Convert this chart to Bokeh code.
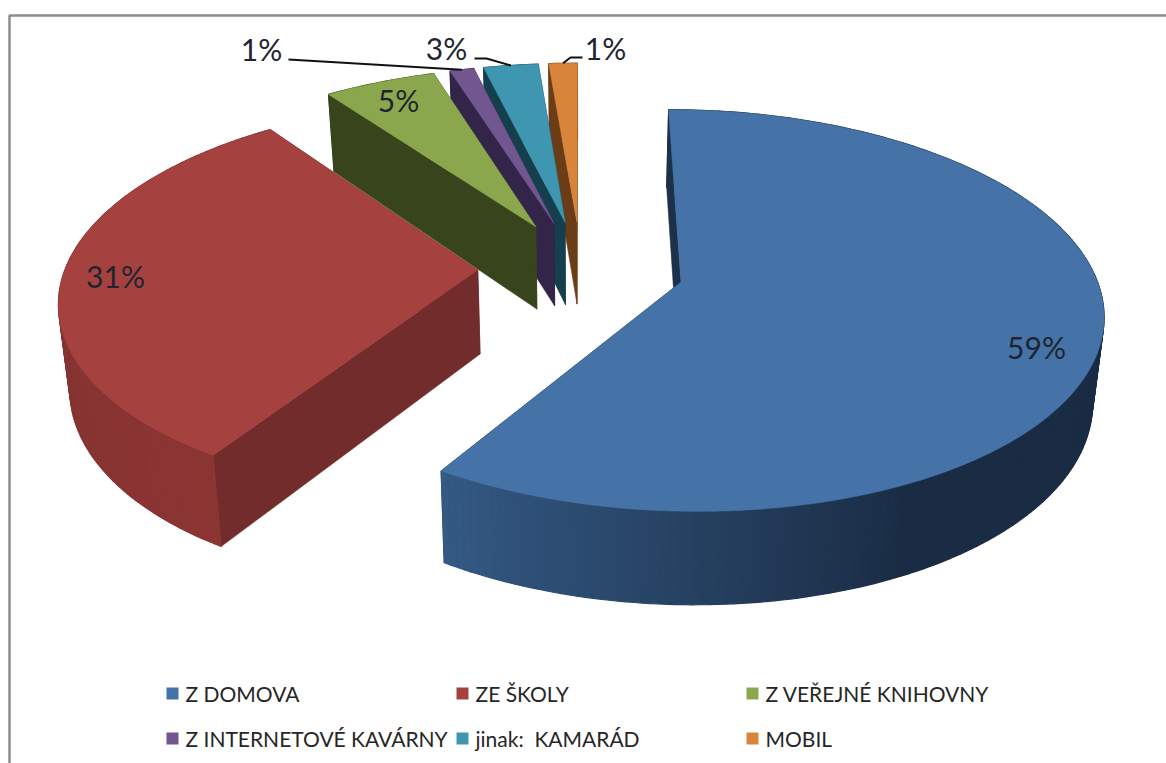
import math
from bokeh.embed import file_html
from bokeh.resources import INLINE
from bokeh.plotting import figure
from bokeh.models import Range1d
from bokeh.core.properties import value

# ---- data ----
categories = ["Z DOMOVA", "ZE ŠKOLY", "Z VEŘEJNÉ KNIHOVNY", "Z INTERNETOVÉ KAVÁRNY", "jinak:\u00a0 KAMARÁD", "MOBIL"]
values = [59, 31, 5.1, 1.1, 2.5, 1.3]
pct_labels = ["59%", "31%", "5%", "1%", "3%", "1%"]

# ---- styles ----
top_colors = ["#4572A7", "#A5413F", "#8AA74D", "#71568F", "#3F96B0", "#D9843B"]
cut_colors = ["#1C3049", "#722C2B", "#38451C", "#33244A", "#163F4D", "#6B3D16"]
wall_from = ["#1A2C44", "#8B3533", "#38451C", "#33244A", "#163F4D", "#6B3D16"]
wall_to = ["#345A84", "#7C302E", "#38451C", "#33244A", "#163F4D", "#6B3D16"]
wall_hold = [0.72, 0.0, 0.0, 0.0, 0.0, 0.0]

# ---- projection of the tilted pie (page pixels) ----
W, H = 1166, 763
CX, CY, AX, BY = 580.5, 268.0, 412.5, 193.0
PERSP = 0.14
EXPLODE = 0.25
DEPTH = 84.0
BOTTOM_SCALE = 0.978


def project(X, Z, lower=False):
    w = 1.0 / (1.0 - PERSP * Z)
    sx = AX * X * w
    sy = BY * Z * w
    if lower:
        return CX + sx * BOTTOM_SCALE, CY + sy * BOTTOM_SCALE + DEPTH * w
    return CX + sx, CY + sy


def mix(c1, c2, t):
    a = [int(c1[i:i + 2], 16) for i in (1, 3, 5)]
    b = [int(c2[i:i + 2], 16) for i in (1, 3, 5)]
    return "#%02x%02x%02x" % tuple(round(a[k] + (b[k] - a[k]) * t) for k in range(3))


total = sum(values)
spans, acc = [], 0.0
for v in values:
    spans.append((acc / total * 2 * math.pi, (acc + v) / total * 2 * math.pi))
    acc += v

poly_x, poly_y, poly_c, poly_w = [], [], [], []


def add(points, color, lw):
    poly_x.append([pt[0] for pt in points])
    poly_y.append([pt[1] for pt in points])
    poly_c.append(color)
    poly_w.append(lw)


anchor = {}
for idx in [5, 4, 3, 2, 1, 0]:
    a0, a1 = spans[idx]
    mid = (a0 + a1) / 2
    ox, oz = EXPLODE * math.sin(mid), -EXPLODE * math.cos(mid)
    n = max(2, int((a1 - a0) / math.radians(1)))
    angs = [a0 + (a1 - a0) * i / n for i in range(n + 1)]
    rim = [(ox + math.sin(t), oz - math.cos(t)) for t in angs]
    apex = (ox, oz)

    walls = []
    for i in range(n):
        t = i / n
        hold = wall_hold[idx]
        col = mix(wall_from[idx], wall_to[idx], max(0.0, (t - hold) / (1 - hold)))
        p0, p1 = rim[i], rim[i + 1]
        quad = [project(*p0), project(*p1), project(*p1, True), project(*p0, True)]
        walls.append(((p0[1] + p1[1]) / 2, quad, col, 1.2))
    for edge in (rim[0], rim[-1]):
        quad = [project(*apex), project(*edge), project(*edge, True), project(*apex, True)]
        walls.append(((apex[1] + edge[1]) / 2, quad, cut_colors[idx], 0.6))
    for _, quad, col, lw in sorted(walls, key=lambda q: q[0]):
        add(quad, col, lw)
    add([project(*apex)] + [project(*r) for r in rim], top_colors[idx], 0.6)
    anchor[idx] = project(ox + math.sin(mid), oz - math.cos(mid))

p = figure(width=W, height=H, output_backend="svg", toolbar_location=None,
           x_range=Range1d(0, W), y_range=Range1d(H, 0),
           min_border=0, outline_line_color=None, background_fill_color="white", border_fill_color="white")
p.axis.visible = False
p.grid.visible = False

# picture frame: left and top edges only
p.line([9, 9, W], [H, 15, 15], line_color="#8c8c8c", line_width=2.5)

p.patches(poly_x, poly_y, fill_color=poly_c, line_color=poly_c, line_width=poly_w)

# ---- percentage labels and leader lines ----
label_xy = [(1036, 346), (115, 275), (398, 99), (261, 48), (446, 47), (605, 47)]
leader_start = {3: [(288, 59)], 4: [(474, 58), (486, 58)], 5: [(582, 57), (570, 57)]}
for i, pts in leader_start.items():
    tip = anchor[i]
    p.line([q[0] for q in pts] + [tip[0]], [q[1] for q in pts] + [tip[1]], line_color="#111111", line_width=2)
p.text([q[0] for q in label_xy], [q[1] for q in label_xy], text=pct_labels, text_font=value("Lato"),
       text_font_size="30px", text_color="#1f2530", text_align="center", text_baseline="middle")

# ---- legend ----
leg_x = [172, 462, 752]
leg_y = [693, 738]
lx = [leg_x[i % 3] for i in range(6)]
ly = [leg_y[i // 3] for i in range(6)]
p.rect(lx, ly, width=12, height=12, fill_color=top_colors, line_color=None)
p.text([x + 13 for x in lx], ly, text=categories, text_font=value("Lato"), text_font_size="21px",
       text_color="#262626", text_align="left", text_baseline="middle")

open("out.html", "w").write(file_html(p, INLINE))
